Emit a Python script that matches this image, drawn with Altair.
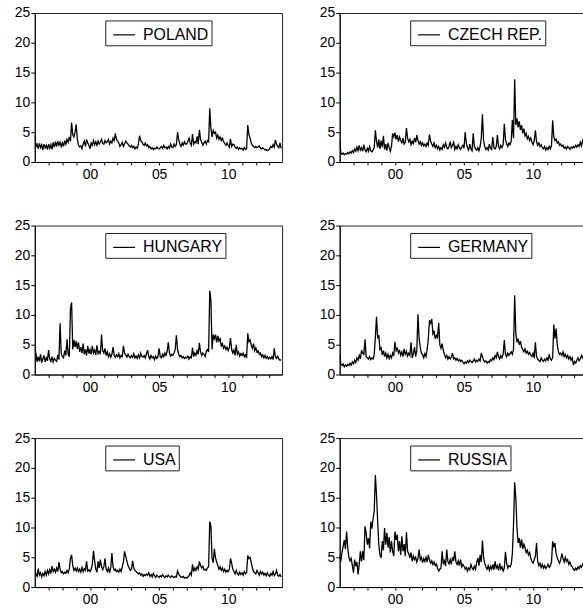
import altair as alt
import pandas as pd

# monthly observations, Jan 1996 .. Nov 2013
poland = [
    4.5, 2.6, 3.0, 2.2, 3.1, 2.4, 2.9, 2.0, 3.0, 2.4, 2.8, 2.1,
    3.0, 2.3, 2.9, 2.1, 3.3, 2.5, 3.4, 2.6, 3.5, 2.8, 3.3, 2.6,
    3.2, 2.6, 3.6, 3.0, 3.8, 3.3, 4.2, 3.5, 6.6, 4.6, 4.2, 5.0,
    6.3, 3.8, 2.8, 2.5, 2.7, 2.2, 3.0, 3.5, 2.6, 3.8, 3.2, 2.8,
    2.2, 3.2, 2.8, 3.6, 2.9, 3.4, 2.8, 3.5, 3.0, 3.3, 3.8, 3.1,
    3.0, 3.6, 3.2, 3.4, 3.8, 3.0, 3.5, 3.2, 4.0, 3.6, 4.8, 3.8,
    3.5, 3.2, 2.6, 2.9, 3.3, 2.6, 3.0, 3.5, 3.2, 3.0, 2.7, 2.5,
    2.8, 2.4, 2.6, 2.2, 2.5, 2.3, 3.0, 4.4, 3.6, 3.4, 3.0, 2.8,
    3.2, 2.7, 2.9, 2.4, 2.6, 2.2, 2.4, 2.1, 2.3, 2.2, 2.5, 2.3,
    2.2, 2.4, 2.6, 2.3, 2.8, 2.4, 2.5, 2.2, 2.6, 2.3, 3.0, 2.5,
    2.4, 3.0, 2.6, 2.9, 5.0, 3.8, 3.0, 2.6, 3.2, 2.8, 3.4, 3.0,
    3.0, 3.5, 4.0, 3.2, 2.8, 4.7, 3.0, 3.4, 3.2, 4.3, 3.0, 5.4,
    3.8, 3.3, 2.8, 3.2, 3.5, 3.0, 3.6, 3.4, 9.0, 5.6, 4.2, 5.3,
    4.8, 5.0, 4.0, 4.5, 3.8, 4.2, 3.6, 4.0, 3.4, 3.1, 2.8, 3.2,
    2.8, 2.5, 3.9, 2.6, 3.0, 2.9, 2.5, 2.3, 2.5, 2.1, 2.4, 2.2,
    2.3, 2.0, 2.4, 2.1, 2.2, 6.2, 4.6, 4.0, 3.2, 2.8, 2.6, 2.4,
    2.6, 2.4, 2.5, 2.7, 2.3, 2.2, 2.4, 2.2, 2.0, 2.1, 1.9, 2.0,
    2.2, 2.6, 2.4, 2.9, 2.5, 3.7, 3.0, 2.6, 2.4, 3.2, 2.3,
]
czech = [
    3.6, 1.5, 1.3, 1.5, 1.2, 1.4, 1.3, 1.6, 1.4, 1.7, 1.5, 1.9,
    1.6, 2.2, 1.8, 2.5, 1.9, 2.8, 2.0, 2.4, 1.8, 2.9, 2.0, 1.7,
    2.3, 1.8, 2.6, 1.9, 1.7, 2.0, 2.4, 5.3, 3.5, 2.4, 3.8, 2.2,
    3.6, 2.5, 4.4, 2.1, 3.0, 1.9, 3.2, 2.4, 1.8, 2.6, 4.8, 4.2,
    4.9, 3.8, 4.5, 3.4, 4.2, 3.6, 3.2, 4.0, 3.0, 3.3, 5.7, 4.0,
    3.4, 3.8, 2.9, 3.5, 3.1, 4.0, 3.3, 4.5, 3.6, 3.0, 3.4, 2.8,
    3.2, 2.7, 3.0, 2.6, 3.2, 2.8, 4.6, 3.5, 3.0, 2.6, 3.2, 2.4,
    2.8, 2.2, 2.6, 2.0, 2.4, 2.1, 2.9, 2.5, 3.2, 2.4, 2.2, 2.6,
    3.4, 2.4, 2.8, 3.3, 2.1, 2.6, 2.2, 2.9, 2.4, 2.1, 2.5, 2.8,
    2.3, 5.0, 3.2, 2.4, 2.0, 3.0, 2.2, 1.9, 4.8, 2.6, 2.2, 2.0,
    2.4, 1.9, 2.6, 4.0, 8.0, 3.6, 2.6, 2.1, 2.4, 2.0, 3.0, 2.3,
    2.1, 4.2, 2.4, 2.2, 2.6, 4.5, 2.6, 2.2, 2.8, 2.4, 2.9, 6.4,
    3.8, 3.0, 2.6, 3.2, 2.9, 3.5, 7.1, 4.0, 13.9, 6.2, 7.3, 5.8,
    6.8, 5.4, 6.2, 4.8, 5.6, 4.4, 4.8, 3.9, 4.3, 3.6, 4.0, 3.3,
    2.9, 3.6, 5.3, 3.4, 2.8, 3.2, 2.6, 2.9, 2.4, 2.2, 2.6, 2.0,
    2.4, 2.1, 2.6, 2.2, 2.8, 7.0, 4.2, 3.6, 3.8, 3.2, 3.4, 2.8,
    3.0, 2.6, 2.8, 2.3, 2.5, 2.2, 2.6, 2.4, 2.1, 2.5, 2.3, 2.6,
    2.4, 2.8, 2.5, 2.9, 2.6, 3.3, 2.7, 3.6, 3.0, 3.5, 3.2,
]
hungary = [
    4.6, 3.5, 2.1, 3.0, 2.2, 3.4, 2.0, 2.6, 3.2, 2.1, 2.8, 2.3,
    4.1, 2.6, 2.2, 3.0, 2.1, 2.7, 2.4, 2.2, 3.3, 2.5, 8.6, 3.5,
    3.0, 2.8, 4.0, 3.2, 5.9, 3.4, 3.0, 11.0, 12.1, 4.2, 5.8, 4.6,
    5.6, 4.3, 5.4, 3.8, 4.6, 3.6, 5.2, 3.4, 4.2, 3.2, 4.8, 3.5,
    4.2, 3.4, 4.8, 3.6, 4.1, 3.3, 4.9, 3.5, 3.9, 3.4, 6.7, 4.0,
    3.6, 4.4, 3.2, 3.8, 3.0, 3.5, 2.9, 3.4, 4.6, 3.2, 2.9, 3.3,
    3.0, 3.5, 2.8, 3.2, 3.0, 4.8, 3.6, 3.3, 2.9, 3.4, 3.0, 2.8,
    3.2, 2.9, 3.5, 2.8, 3.1, 2.7, 3.3, 2.8, 3.6, 3.0, 2.9, 3.2,
    2.8, 3.5, 4.1, 3.0, 2.6, 3.2, 2.8, 3.0, 2.5, 3.1, 2.7, 3.0,
    4.4, 3.0, 2.8, 3.4, 3.0, 3.6, 3.2, 3.9, 5.4, 3.6, 3.1, 3.4,
    3.2, 3.6, 4.2, 6.6, 4.2, 3.4, 3.0, 3.2, 2.8, 3.0, 2.7, 2.9,
    2.8, 3.1, 2.6, 3.0, 2.8, 4.5, 3.0, 3.6, 3.2, 4.0, 3.4, 5.3,
    3.8, 3.2, 3.6, 3.4, 3.0, 3.9, 4.2, 3.8, 14.1, 12.5, 4.2, 6.7,
    6.0, 6.7, 5.4, 6.5, 5.6, 6.0, 4.8, 5.2, 4.4, 4.8, 4.2, 4.6,
    4.0, 4.5, 6.1, 4.2, 3.6, 4.1, 3.2, 5.0, 3.4, 3.8, 3.1, 3.5,
    3.2, 3.6, 3.0, 3.3, 2.8, 6.9, 5.5, 5.8, 5.0, 4.4, 5.2, 4.0,
    4.5, 3.8, 4.0, 3.4, 3.6, 3.0, 3.3, 2.8, 3.2, 2.7, 3.0, 2.6,
    2.9, 2.6, 3.0, 2.5, 4.4, 3.0, 2.7, 3.1, 2.6, 2.4, 2.5,
]
germany = [
    3.4, 1.7, 1.5, 1.8, 1.3, 1.6, 1.4, 1.7, 1.5, 1.9, 1.6, 2.1,
    1.8, 2.4, 2.0, 2.8, 2.4, 3.2, 2.6, 4.1, 3.6, 3.4, 5.9, 3.0,
    2.8, 2.6, 3.0, 2.5, 2.8, 2.6, 3.3, 6.3, 9.7, 6.1, 6.6, 4.2,
    4.5, 3.3, 4.0, 3.0, 3.6, 2.8, 3.4, 2.7, 3.2, 2.8, 3.6, 3.1,
    5.5, 4.0, 4.4, 3.6, 4.0, 3.2, 3.8, 3.0, 4.3, 3.4, 3.9, 3.1,
    3.6, 3.2, 5.4, 2.8, 3.5, 4.6, 3.0, 4.0, 10.1, 6.0, 4.5, 3.6,
    3.4, 2.8, 3.5, 3.0, 4.2, 6.0, 9.1, 8.6, 9.3, 6.8, 7.2, 6.0,
    6.6, 6.2, 8.7, 5.0, 4.4, 5.2, 4.1, 3.4, 2.8, 3.2, 2.6, 3.0,
    2.6, 2.9, 3.6, 2.6, 2.8, 2.4, 2.7, 2.3, 2.5, 2.2, 2.4, 2.1,
    1.8, 2.1, 1.9, 2.3, 2.0, 2.4, 2.2, 2.0, 2.3, 2.6, 2.1, 2.4,
    2.2, 2.6, 2.3, 3.6, 3.0, 2.4, 2.1, 2.3, 1.9, 2.2, 2.0, 2.5,
    2.3, 2.8, 2.5, 3.2, 2.8, 3.8, 3.0, 2.6, 3.2, 2.8, 3.4, 5.8,
    3.4, 3.0, 3.6, 3.2, 3.5, 3.8, 3.4, 4.2, 13.3, 6.9, 5.4, 6.0,
    5.0, 5.6, 4.6, 4.2, 3.8, 4.3, 3.6, 3.9, 3.4, 3.7, 3.2, 3.0,
    3.6, 2.8, 5.4, 3.0, 2.6, 2.4, 2.2, 2.8, 2.4, 2.2, 2.6, 2.3,
    2.8, 2.4, 3.4, 2.6, 2.4, 2.9, 8.4, 6.0, 7.7, 5.0, 3.8, 3.4,
    3.6, 3.2, 3.8, 3.0, 3.4, 2.8, 3.2, 2.6, 3.0, 2.4, 2.8, 1.6,
    2.2, 1.9, 2.4, 2.8, 2.3, 2.6, 3.2, 2.8, 3.3, 3.5, 3.1,
]
usa = [
    2.7, 2.2, 1.8, 3.1, 2.0, 2.4, 1.7, 2.3, 1.9, 2.6, 2.0, 2.8,
    2.2, 2.9, 2.4, 3.5, 2.6, 3.0, 2.5, 3.2, 2.6, 4.2, 3.0, 2.4,
    2.6, 2.2, 2.5, 2.3, 2.8, 2.4, 3.0, 4.8, 5.4, 3.6, 2.8, 3.2,
    2.7, 3.2, 2.6, 3.0, 2.5, 3.3, 2.6, 3.1, 2.8, 4.3, 2.7, 2.9,
    2.6, 3.0, 3.8, 6.1, 4.4, 3.0, 2.5, 4.3, 3.2, 4.6, 3.4, 2.9,
    3.4, 4.8, 3.0, 2.6, 3.2, 2.4, 3.3, 5.7, 3.4, 2.8, 3.0, 2.6,
    2.8, 2.5, 3.0, 2.6, 3.4, 4.2, 6.0, 5.2, 4.4, 3.6, 3.2, 2.8,
    3.0, 4.4, 3.2, 2.8, 2.6, 2.4, 2.2, 2.4, 2.0, 2.2, 1.8, 2.1,
    1.9, 2.2, 2.0, 2.4, 1.8, 2.1, 1.7, 2.3, 1.9, 1.6, 2.0, 1.8,
    1.6, 1.9, 1.7, 2.1, 1.8, 1.6, 1.9, 1.7, 2.0, 1.8, 1.6, 1.9,
    1.7, 1.6, 1.8, 1.7, 2.7, 2.2, 1.9, 1.7, 1.6, 1.8, 1.5, 1.6,
    1.5, 1.7, 1.9, 2.4, 2.0, 3.8, 2.6, 3.2, 2.8, 3.4, 3.0, 4.3,
    3.6, 3.2, 3.5, 2.9, 3.0, 2.8, 3.2, 3.4, 11.0, 10.2, 4.8, 4.1,
    6.4, 4.9, 4.2, 3.6, 3.0, 3.4, 2.8, 3.2, 2.6, 3.0, 2.5, 2.8,
    2.6, 3.0, 4.8, 4.0, 3.0, 2.6, 2.2, 2.8, 2.3, 2.0, 2.5, 2.1,
    2.4, 2.0, 2.6, 2.2, 2.4, 5.3, 4.8, 5.0, 4.2, 3.2, 2.6, 2.4,
    2.2, 2.8, 2.4, 2.0, 2.6, 2.2, 2.5, 2.0, 2.3, 1.9, 2.4, 2.0,
    1.8, 2.3, 2.0, 2.6, 1.9, 2.2, 2.8, 2.0, 1.8, 2.1, 1.7,
]
russia = [
    5.2, 4.3, 5.8, 6.8, 7.9, 6.4, 9.3, 6.6, 5.0, 4.4, 4.8, 3.6,
    2.4, 4.6, 3.5, 4.2, 2.1, 3.8, 6.0, 4.3, 6.0, 4.5, 10.2, 9.1,
    7.1, 8.2, 6.5, 11.0, 9.8, 11.5, 12.7, 18.8, 15.4, 11.0, 7.1, 5.4,
    4.9, 7.7, 6.2, 9.9, 7.1, 9.1, 6.6, 8.4, 5.8, 7.7, 6.0, 5.2,
    9.3, 7.9, 8.8, 6.0, 7.7, 5.4, 8.5, 6.0, 7.2, 5.2, 9.2, 6.0,
    5.6, 4.9, 5.8, 4.3, 5.2, 4.6, 5.0, 4.2, 4.8, 6.3, 4.6, 5.0,
    4.1, 4.8, 4.3, 5.0, 4.2, 5.4, 4.6, 4.0, 4.4, 3.8, 4.2, 3.6,
    3.9, 3.2, 2.7, 3.0, 3.2, 6.0, 3.8, 4.4, 3.5, 6.3, 4.3, 3.9,
    4.6, 3.8, 5.0, 4.4, 6.0, 4.2, 3.8, 4.4, 3.6, 4.6, 3.4, 3.8,
    3.5, 3.0, 3.3, 2.7, 3.2, 2.9, 3.8, 3.2, 2.9, 3.5, 3.0, 4.1,
    4.9, 3.6, 5.4, 4.2, 7.8, 5.0, 4.0, 3.4, 3.0, 3.6, 2.8, 3.5,
    3.0, 3.8, 2.9, 4.3, 3.2, 3.6, 2.8, 4.0, 3.0, 3.4, 2.7, 3.2,
    5.9, 4.0, 3.2, 3.6, 3.4, 3.8, 5.6, 10.4, 17.6, 15.0, 9.9, 7.4,
    8.2, 6.6, 8.0, 6.4, 7.2, 6.6, 5.8, 6.2, 5.4, 5.8, 4.8, 4.3,
    4.0, 4.6, 5.2, 7.4, 4.3, 3.6, 4.0, 3.3, 3.8, 3.2, 3.6, 3.1,
    3.4, 3.8, 3.3, 3.6, 4.2, 7.7, 6.8, 7.4, 5.6, 4.9, 4.4, 4.0,
    4.6, 5.6, 4.8, 4.2, 5.0, 4.3, 4.6, 3.8, 4.2, 3.6, 3.4, 3.0,
    2.8, 3.2, 2.9, 3.4, 3.1, 3.6, 3.3, 3.8, 4.2, 3.6, 4.0,
]

names = ["POLAND", "CZECH REP.", "HUNGARY", "GERMANY", "USA", "RUSSIA"]
series = [poland, czech, hungary, germany, usa, russia]

x_ticks = list(range(1997, 2014))
y_ticks = [0, 5, 10, 15, 20, 25]
x_domain = [1996.0, 2013.9]

FONT = "Liberation Sans"


def panel(name, values):
    df = pd.DataFrame({
        "t": [1996 + i / 12 for i in range(len(values))],
        "v": values,
        "s": name,
    })
    return alt.Chart(df).mark_line(color="black", strokeWidth=1.3, clip=True).encode(
        x=alt.X("t:Q", title=None,
                scale=alt.Scale(domain=x_domain, nice=False, zero=False),
                axis=alt.Axis(values=x_ticks, tickSize=3, labelPadding=3,
                              labelOverlap=False, labelFlush=False,
                              labelExpr="datum.value % 5 == 0 ? ((datum.value % 100) < 10 ? '0' : '') + (datum.value % 100) : ''")),
        y=alt.Y("v:Q", title=None,
                scale=alt.Scale(domain=[0, 25], nice=False),
                axis=alt.Axis(values=y_ticks, tickSize=4, labelPadding=1,
                              minExtent=24, maxExtent=24)),
        color=alt.Color("s:N", scale=alt.Scale(domain=[name], range=["black"]),
                        legend=alt.Legend(title=None, labelExpr="datum.label + '\u00a0'")),
    ).properties(width=249, height=150)


rows = []
for r in range(3):
    row = alt.hconcat(panel(names[2 * r], series[2 * r]),
                      panel(names[2 * r + 1], series[2 * r + 1]),
                      spacing=32).resolve_scale(color="independent").resolve_legend(color="independent")
    rows.append(row)

chart = alt.vconcat(*rows, spacing=35).resolve_scale(color="independent").resolve_legend(
    color="independent"
).properties(
    padding={"left": 10, "top": 3, "right": -5, "bottom": 0},
    background="white"
).configure_view(
    stroke="#222", strokeWidth=1
).configure_axis(
    grid=False, domainColor="black", tickColor="black", labelColor="black",
    labelFont=FONT, labelFontSize=14, domainWidth=1, tickWidth=1
).configure_legend(
    orient="none", legendX=71, legendY=7.5, strokeColor="#222", fillColor="white",
    padding=2.5, symbolType="stroke", symbolSize=484, symbolStrokeWidth=1.2,
    symbolStrokeColor="black", symbolOffset=4.5, labelOffset=7,
    labelFont=FONT, labelFontSize=16, labelColor="black"
)

chart.save("out.html", embed_options={"renderer": "svg", "actions": False})
